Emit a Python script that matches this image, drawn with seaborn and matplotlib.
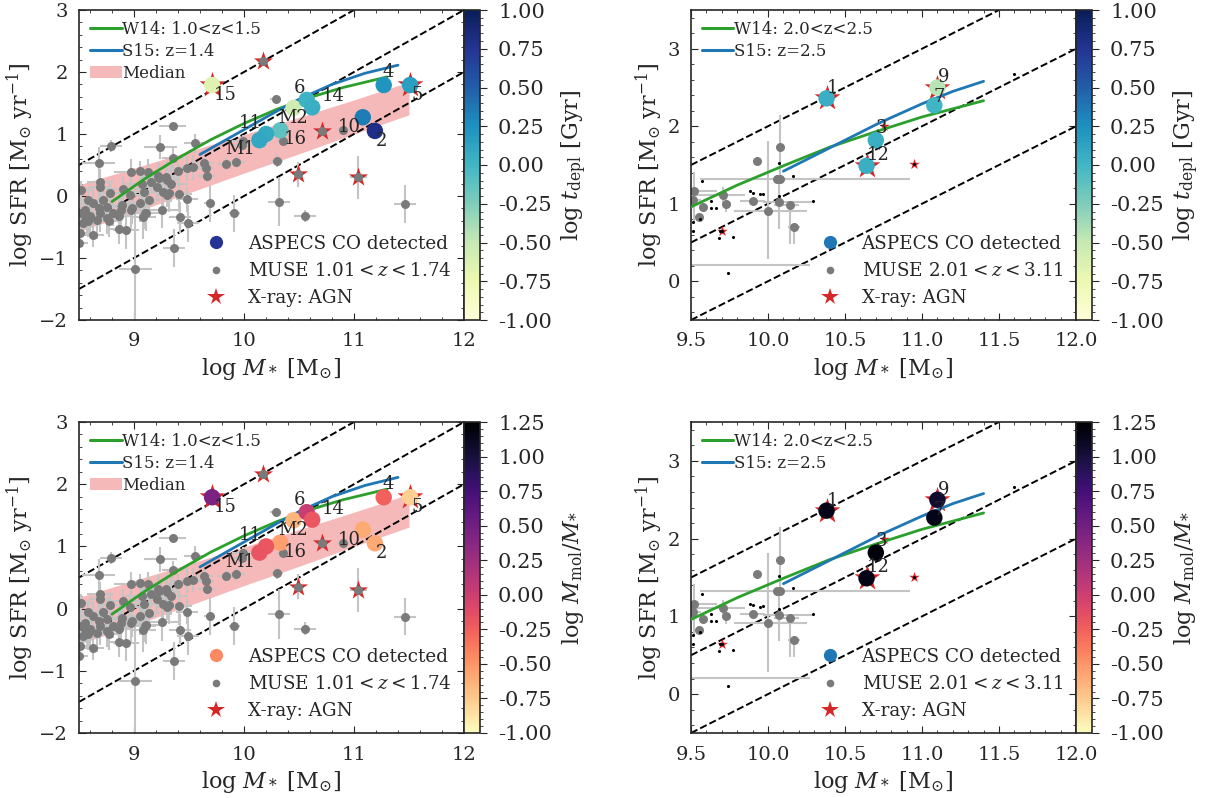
import matplotlib
matplotlib.use("Agg")
import matplotlib.pyplot as plt
import numpy as np
import pandas as pd
import seaborn as sns
from matplotlib.lines import Line2D
from matplotlib.patches import Patch
from matplotlib.ticker import AutoMinorLocator, MultipleLocator

# ---- data ----
# ASPECS CO detections, 1.0 < z < 1.7
aspecs_lo_id = ['15', 'M2', '6', '14', '16', '11', 'M1', '10', '2', '4', '5']
aspecs_lo_mass = [9.71, 10.45, 10.57, 10.62, 10.33, 10.20, 10.14, 11.08, 11.19, 11.27, 11.51]
aspecs_lo_sfr = [1.79, 1.42, 1.55, 1.43, 1.06, 1.00, 0.90, 1.27, 1.05, 1.79, 1.79]
aspecs_lo_tdepl = [-0.65, -0.55, 0.02, 0.05, -0.12, 0.08, 0.10, 0.35, 0.80, 0.22, 0.15]
aspecs_lo_fgas = [0.45, -0.65, 0.02, -0.2, -0.55, -0.2, -0.18, -0.6, -0.6, -0.25, -0.78]

# ASPECS CO detections, 2.0 < z < 3.1
aspecs_hi_id = ['1', '9', '7', '3', '12']
aspecs_hi_mass = [10.38, 11.10, 11.08, 10.70, 10.64]
aspecs_hi_sfr = [2.36, 2.50, 2.27, 1.82, 1.49]
aspecs_hi_tdepl = [0.05, -0.45, 0.0, 0.05, 0.05]
aspecs_hi_fgas = [1.15, 1.05, 1.15, 1.20, 1.15]

# X-ray AGN
agn_lo_mass = [9.71, 10.17, 10.71, 10.49, 11.04, 11.51]
agn_lo_sfr = [1.79, 2.17, 1.05, 0.35, 0.30, 1.79]
agn_lo_co = [True, False, False, False, False, True]
agn_hi_mass = [10.38, 11.10, 10.64, 10.75, 9.70, 10.95]
agn_hi_sfr = [2.36, 2.50, 1.49, 2.00, 0.65, 1.51]
agn_hi_co = [True, True, True, False, False, False]

# MUSE galaxies 1.01 < z < 1.74
muse_lo_mass = [10.29, 9.35, 8.79, 9.24, 9.55, 8.68, 8.97, 9.05, 9.13, 9.35, 9.48, 9.64,
                9.65, 9.84, 9.93, 9.99, 10.35, 10.30, 8.69, 8.69, 8.52, 8.90, 9.07, 9.15,
                9.22, 9.30, 9.21, 9.09, 8.96, 8.78, 9.30, 9.41, 9.48, 9.69, 9.91, 10.32,
                10.55, 11.46, 9.66, 8.58, 8.63, 8.55, 8.68, 8.72, 8.75, 8.60, 8.54, 8.66,
                8.75, 8.81, 8.86, 8.89, 8.98, 9.05, 9.10, 9.08, 8.86, 8.93, 8.63, 8.52,
                8.51, 8.50, 9.25, 9.42, 9.49, 9.36, 9.01, 8.57, 8.69, 9.23, 9.29, 9.34,
                9.26, 9.32, 9.54, 8.88, 8.97, 9.14, 9.11, 8.77, 8.55, 8.58, 10.17, 10.71,
                10.49, 11.04, 10.90, 9.98, 9.40]
muse_lo_sfr = [1.56, 1.13, 0.81, 0.79, 0.85, 0.54, 0.39, 0.41, 0.39, 0.62, 0.45, 0.53,
               0.45, 0.52, 0.55, 0.89, 0.89, 0.57, 0.23, 0.15, 0.09, 0.12, 0.20, 0.23,
               0.32, 0.26, 0.15, 0.07, 0.02, 0.05, 0.02, 0.04, -0.05, -0.12, -0.28, -0.09,
               -0.32, -0.13, 0.32, -0.06, -0.12, -0.23, -0.20, -0.06, -0.17, -0.33, -0.44, -0.39,
               -0.36, -0.28, -0.33, -0.15, -0.20, -0.12, -0.28, -0.34, -0.53, -0.55, -0.63, -0.28,
               -0.60, -0.76, -0.22, -0.34, -0.44, -0.84, -1.17, -0.39, -0.28, 0.29, 0.31, 0.20,
               0.07, 0.05, 0.46, -0.23, -0.23, -0.07, -0.27, -0.41, -0.33, -0.41, 2.17, 1.05,
               0.35, 0.30, 1.06, 0.82, 0.40]
muse_lo_xerr = [0.05, 0.12, 0.10, 0.15, 0.10, 0.15, 0.15, 0.10, 0.12, 0.10, 0.15, 0.08,
                0.08, 0.08, 0.08, 0.10, 0.05, 0.05, 0.12, 0.10, 0.10, 0.15, 0.15, 0.10,
                0.15, 0.10, 0.10, 0.12, 0.10, 0.12, 0.10, 0.12, 0.10, 0.05, 0.05, 0.10,
                0.10, 0.10, 0.08, 0.10, 0.12, 0.08, 0.10, 0.12, 0.10, 0.10, 0.12, 0.15,
                0.10, 0.12, 0.10, 0.15, 0.12, 0.15, 0.10, 0.12, 0.10, 0.12, 0.10, 0.08,
                0.10, 0.08, 0.15, 0.10, 0.10, 0.10, 0.15, 0.10, 0.12, 0.12, 0.10, 0.15,
                0.10, 0.12, 0.10, 0.10, 0.12, 0.10, 0.15, 0.10, 0.08, 0.10, 0.05, 0.05,
                0.05, 0.08, 0.05, 0.08, 0.10]
muse_lo_yerr = [0.05, 0.05, 0.10, 0.20, 0.15, 0.25, 0.20, 0.15, 0.20, 0.15, 0.20, 0.10,
                0.10, 0.10, 0.10, 0.10, 0.05, 0.10, 0.20, 0.20, 0.15, 0.20, 0.25, 0.20,
                0.20, 0.30, 0.20, 0.25, 0.20, 0.20, 0.20, 0.30, 0.20, 0.30, 0.30, 0.40,
                0.10, 0.30, 0.10, 0.20, 0.25, 0.20, 0.25, 0.20, 0.30, 0.25, 0.20, 0.30,
                0.25, 0.20, 0.30, 0.20, 0.25, 0.30, 0.25, 0.35, 0.25, 0.30, 0.20, 0.25,
                0.20, 0.15, 0.30, 0.25, 0.30, 0.30, 0.90, 0.25, 0.30, 0.25, 0.20, 0.30,
                0.25, 0.30, 0.20, 0.25, 0.30, 0.25, 0.30, 0.25, 0.20, 0.25, 0.05, 0.05,
                0.20, 0.35, 0.05, 0.10, 0.15]

# MUSE galaxies 2.01 < z < 3.11
muse_hi_mass = [9.515, 9.52, 9.58, 9.55, 9.71, 9.73, 9.93, 9.90, 10.00, 10.06, 10.08,
                10.08, 10.07, 10.14, 10.17, 9.40]
muse_hi_sfr = [1.05, 1.16, 0.96, 0.83, 1.11, 1.00, 1.55, 1.03, 0.91, 1.32, 1.32,
               1.73, 1.02, 0.98, 0.70, 0.21]
muse_hi_xerr_lo = [0.05, 0.03, 0.03, 0.03, 0.20, 0.03, 0.03, 0.08, 0.22, 0.50, 0.05,
                   0.03, 0.10, 0.10, 0.04, 0.00]
muse_hi_xerr_hi = [0.05, 0.15, 0.03, 0.03, 0.14, 0.03, 0.03, 0.08, 0.25, 0.86, 0.05,
                   0.03, 0.22, 0.06, 0.04, 0.87]
muse_hi_yerr_lo = [0.10, 0.40, 0.05, 0.05, 0.10, 0.10, 0.03, 0.05, 0.62, 0.05, 0.02,
                   0.42, 0.34, 0.50, 0.22, 0.00]
muse_hi_yerr_hi = [0.10, 0.25, 0.05, 0.05, 0.10, 0.10, 0.03, 0.05, 0.90, 0.05, 0.02,
                   0.42, 0.30, 0.02, 0.05, 0.00]
# faint MUSE detections (tiny black dots)
faint_hi_mass = [9.57, 9.63, 9.66, 9.63, 9.88, 9.90, 9.95, 10.07, 10.16, 10.29, 9.69,
                 9.68, 9.77, 9.74, 9.51, 9.56, 9.51, 10.07, 9.70, 10.95, 11.60, 9.97]
faint_hi_sfr = [1.29, 1.03, 0.94, 0.94, 1.16, 1.14, 1.12, 1.52, 1.36, 1.03, 0.65,
                0.56, 0.57, 0.11, 0.76, 0.80, 0.65, 1.10, 0.65, 1.51, 2.67, 1.13]

# literature main sequences
w14_lo_mass = [8.8, 9.1, 9.4, 9.7, 10.0, 10.3, 10.6, 10.9, 11.3]
w14_lo_sfr = [-0.09, 0.28, 0.61, 0.91, 1.17, 1.40, 1.59, 1.75, 1.92]
s15_lo_mass = [9.6, 9.9, 10.2, 10.31, 10.5, 10.8, 11.1, 11.4]
s15_lo_sfr = [0.67, 0.97, 1.27, 1.38, 1.56, 1.80, 1.98, 2.11]
w14_hi_mass = [9.5, 9.8, 10.1, 10.4, 10.7, 11.0, 11.4]
w14_hi_sfr = [0.96, 1.24, 1.49, 1.73, 1.93, 2.12, 2.33]
s15_hi_mass = [10.1, 10.4, 10.7, 10.72, 11.0, 11.2, 11.4]
s15_hi_sfr = [1.42, 1.72, 2.02, 2.04, 2.29, 2.45, 2.58]

# median band of the low-z MUSE sample
median_mass = [8.5, 9.0, 9.5, 10.0, 10.5, 11.0, 11.5]
median_lo = [-0.57, -0.27, 0.05, 0.37, 0.68, 1.00, 1.31]
median_hi = [0.18, 0.45, 0.72, 0.99, 1.27, 1.55, 1.84]

# constant sSFR lines: log SFR = log M* + offset
ssfr_offsets = [-8, -9, -10]

# ---- style ----
sns.set_style("ticks")
plt.rcParams.update({
    'font.family': 'serif',
    'font.serif': ['DejaVu Serif'],
    'mathtext.fontset': 'dejavuserif',
    'font.size': 14,
    'axes.labelsize': 16,
    'xtick.labelsize': 14,
    'ytick.labelsize': 14,
    'xtick.direction': 'in',
    'ytick.direction': 'in',
    'xtick.top': True,
    'ytick.right': True,
    'xtick.major.size': 5,
    'ytick.major.size': 5,
    'xtick.minor.size': 2.5,
    'ytick.minor.size': 2.5,
    'xtick.major.pad': 9,
    'ytick.major.pad': 8,
    'axes.linewidth': 1.2,
})

C_GREEN = '#2ca02c'
C_BLUE = '#1f77b4'
C_RED = '#d62728'
C_GRAY = '#7a7a7a'
C_ERR = '#c4c4c4'

# label offsets (pixels) for the ASPECS IDs
label_offsets = {
    '15': (13, -10), 'M2': (0, -10), '6': (-7, 12), '14': (21, 11), '16': (15, -9),
    '11': (-16, 11), 'M1': (-19, -9), '10': (-14, -10), '2': (7, -10), '4': (4, 13),
    '5': (7, -10), '1': (6, 10), '9': (6, 10), '7': (5, 8), '3': (6, 12), '12': (12, 11),
}

fig = plt.figure(figsize=(12.05, 7.98), dpi=100)
W, H = 1205, 798


def add_box(x0, x1, y0, y1):
    return fig.add_axes([x0 / W, 1 - y1 / H, (x1 - x0) / W, (y1 - y0) / H])


def draw_panel(ax, cax, lowz, cvar):
    if lowz:
        ids, mass, sfr = aspecs_lo_id, aspecs_lo_mass, aspecs_lo_sfr
        cval = aspecs_lo_tdepl if cvar == 'tdepl' else aspecs_lo_fgas
        agn = pd.DataFrame({'m': agn_lo_mass, 's': agn_lo_sfr, 'co': agn_lo_co})
        w14 = (w14_lo_mass, w14_lo_sfr, 'W14: 1.0<z<1.5')
        s15 = (s15_lo_mass, s15_lo_sfr, 'S15: z=1.4')
        xlim, ylim = (8.5, 12), (-2, 3)
        muse_label = r'MUSE $1.01<z<1.74$'
        star_small = 210
    else:
        ids, mass, sfr = aspecs_hi_id, aspecs_hi_mass, aspecs_hi_sfr
        cval = aspecs_hi_tdepl if cvar == 'tdepl' else aspecs_hi_fgas
        agn = pd.DataFrame({'m': agn_hi_mass, 's': agn_hi_sfr, 'co': agn_hi_co})
        w14 = (w14_hi_mass, w14_hi_sfr, 'W14: 2.0<z<2.5')
        s15 = (s15_hi_mass, s15_hi_sfr, 'S15: z=2.5')
        xlim, ylim = (9.5, 12), (-0.5, 3.5)
        muse_label = r'MUSE $2.01<z<3.11$'
        star_small = 65

    if cvar == 'tdepl':
        cmap, vmin, vmax = 'YlGnBu', -1.0, 1.0
        clabel = r'log $t_{\rm depl}$ [Gyr]'
        leg_color = '#253494' if lowz else C_BLUE
    else:
        cmap, vmin, vmax = 'magma_r', -1.0, 1.25
        clabel = r'log $M_{\rm mol}/M_{*}$'
        leg_color = '#fb8a62' if lowz else C_BLUE

    # median band
    if lowz:
        ax.fill_between(median_mass, median_lo, median_hi, color='#f08080',
                        alpha=0.55, lw=0, zorder=0.5)

    for off in ssfr_offsets:
        ax.axline((10, 10 + off), slope=1, color='k', ls='--', lw=1.4, zorder=1)

    # MUSE sample
    if lowz:
        ax.errorbar(muse_lo_mass, muse_lo_sfr, xerr=muse_lo_xerr, yerr=muse_lo_yerr,
                    fmt='none', ecolor=C_ERR, elinewidth=1.5, zorder=1.5)
        sns.scatterplot(x=muse_lo_mass, y=muse_lo_sfr, ax=ax, color=C_GRAY, s=42,
                        linewidth=0, zorder=2.5, legend=False)
    else:
        ax.errorbar(muse_hi_mass, muse_hi_sfr,
                    xerr=[muse_hi_xerr_lo, muse_hi_xerr_hi],
                    yerr=[muse_hi_yerr_lo, muse_hi_yerr_hi],
                    fmt='none', ecolor=C_ERR, elinewidth=1.5, zorder=1.5)
        sns.scatterplot(x=muse_hi_mass, y=muse_hi_sfr, ax=ax, color=C_GRAY, s=42,
                        linewidth=0, zorder=2.5, legend=False)
        sns.scatterplot(x=faint_hi_mass, y=faint_hi_sfr, ax=ax, color='k', s=5,
                        linewidth=0, zorder=2.6, legend=False)

    # X-ray AGN
    big = agn[agn['co']]
    small = agn[~agn['co']]
    ax.scatter(big['m'], big['s'], marker='*', s=380, color=C_RED, lw=0, zorder=2)
    ax.scatter(small['m'], small['s'], marker='*', s=star_small, color=C_RED, lw=0, zorder=2)

    # main-sequence curves
    sns.lineplot(x=w14[0], y=w14[1], ax=ax, color=C_GREEN, lw=2, sort=False,
                 estimator=None, zorder=3, legend=False)
    sns.lineplot(x=s15[0], y=s15[1], ax=ax, color=C_BLUE, lw=2, sort=False,
                 estimator=None, zorder=3, legend=False)

    # ASPECS CO detections
    df = pd.DataFrame({'m': mass, 's': sfr, 'c': cval, 'id': ids})
    sns.scatterplot(data=df, x='m', y='s', hue='c', palette=cmap, hue_norm=(vmin, vmax),
                    s=140, linewidth=0, zorder=4, legend=False, ax=ax)
    for _, r in df.iterrows():
        ax.annotate(r['id'], (r['m'], r['s']), xytext=label_offsets[r['id']],
                    textcoords='offset pixels', ha='center', va='center',
                    fontsize=13, zorder=5)

    ax.set_xlim(*xlim)
    ax.set_ylim(*ylim)
    ax.xaxis.set_major_locator(MultipleLocator(1 if lowz else 0.5))
    ax.yaxis.set_major_locator(MultipleLocator(1))
    ax.xaxis.set_minor_locator(AutoMinorLocator(5))
    ax.yaxis.set_minor_locator(AutoMinorLocator(5))
    ax.tick_params(which='both', top=True, right=True, direction='in')
    if not lowz:
        ax.xaxis.set_major_formatter(plt.FormatStrFormatter('%.1f'))
    ax.set_xlabel(r'log $M_*$ [M$_{\odot}$]', labelpad=4)
    ax.set_ylabel(r'log SFR [M$_{\odot}$ yr$^{-1}$]', labelpad=2)

    # legends
    line_handles = [Line2D([], [], color=C_GREEN, lw=2.2, label=w14[2]),
                    Line2D([], [], color=C_BLUE, lw=2.2, label=s15[2])]
    if lowz:
        line_handles.append(Patch(facecolor='#f08080', alpha=0.55, lw=0, label='Median'))
    leg1 = ax.legend(handles=line_handles, loc='upper left', fontsize=12, frameon=False,
                     handlelength=1.9, handletextpad=0.05, labelspacing=0.3,
                     borderaxespad=0.25)
    ax.add_artist(leg1)
    pt_handles = [
        Line2D([], [], ls='none', marker='o', ms=9.5, mew=0, color=leg_color,
               label='ASPECS CO detected'),
        Line2D([], [], ls='none', marker='o', ms=5.5, mew=0, color=C_GRAY, label=muse_label),
        Line2D([], [], ls='none', marker='*', ms=13, mew=0, color=C_RED, label='X-ray: AGN'),
    ]
    ax.legend(handles=pt_handles, loc='lower right', fontsize=13.2, frameon=False,
              handletextpad=0.7, labelspacing=0.5, borderaxespad=0.3)

    sm = plt.cm.ScalarMappable(cmap=cmap, norm=plt.Normalize(vmin, vmax))
    cb = fig.colorbar(sm, cax=cax)
    cb.set_ticks(np.arange(vmin, vmax + 0.01, 0.25))
    cb.ax.yaxis.set_major_formatter(plt.FormatStrFormatter('%.2f'))
    cb.ax.yaxis.set_minor_locator(AutoMinorLocator(5))
    cb.ax.tick_params(which='both', direction='out', right=True, labelsize=15)
    cb.ax.tick_params(which='major', pad=8)
    cb.set_label(clabel, fontsize=16, labelpad=6)
    cb.outline.set_linewidth(1.2)


panels = [
    (79, 464, 10, 320, True, 'tdepl'),
    (691, 1076, 10, 320, False, 'tdepl'),
    (79, 464, 422, 733, True, 'fgas'),
    (691, 1076, 422, 733, False, 'fgas'),
]
for x0, x1, y0, y1, lowz, cvar in panels:
    ax = add_box(x0, x1, y0, y1)
    cax = add_box(x1, x1 + 16, y0, y1)
    draw_panel(ax, cax, lowz, cvar)

fig.savefig('out.png', dpi=100)
